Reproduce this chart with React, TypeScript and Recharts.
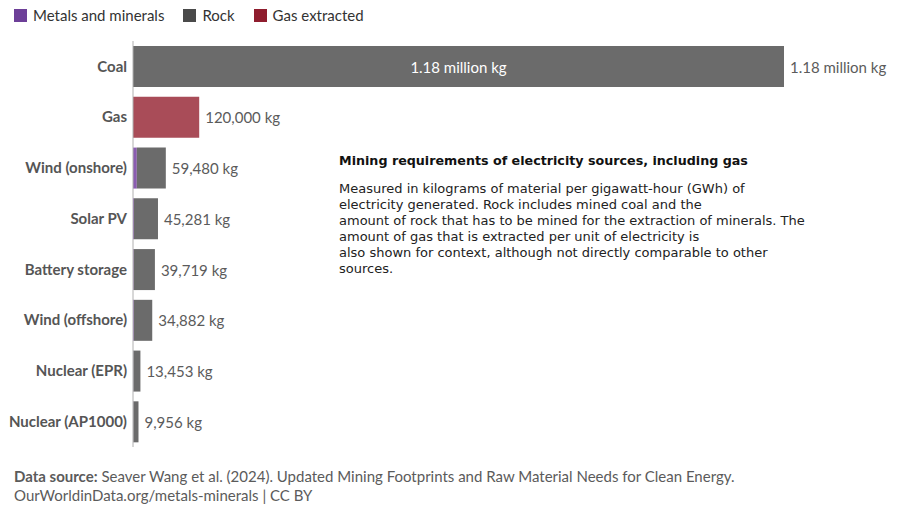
import { BarChart, Bar, XAxis, YAxis, LabelList } from 'recharts';

document.body.style.margin = '0';

const categories = [
  'Coal',
  'Gas',
  'Wind (onshore)',
  'Solar PV',
  'Battery storage',
  'Wind (offshore)',
  'Nuclear (EPR)',
  'Nuclear (AP1000)',
];
const metals = [0, 0, 6900, 1800, 1200, 1500, 500, 400];
const rock = [1180000, 0, 52580, 43481, 38519, 33382, 12953, 9556];
const gas = [0, 120000, 0, 0, 0, 0, 0, 0];
const totalLabels = [
  '1.18 million kg',
  '120,000 kg',
  '59,480 kg',
  '45,281 kg',
  '39,719 kg',
  '34,882 kg',
  '13,453 kg',
  '9,956 kg',
];

const data = categories.map((name, i) => ({
  name,
  metals: metals[i],
  rock: rock[i],
  gas: gas[i],
  total: totalLabels[i],
  inside: i === 0 ? totalLabels[i] : '',
}));

const FONT = 'Lato, "Noto Sans", sans-serif';

const legendItems = [
  { label: 'Metals and minerals', color: '#6d3f98' },
  { label: 'Rock', color: '#4a4a4a' },
  { label: 'Gas extracted', color: '#8f1d2e' },
];

const OutsideLabel = (props: any) => {
  const { x, y, width, height, value } = props;
  if (!value) return null;
  return (
    <text
      x={Number(x) + Number(width) + 6}
      y={Number(y) + Number(height) / 2}
      dominantBaseline="central"
      fill="#5b5b5b"
      fontSize={15}
      fontFamily={FONT}
    >
      {value}
    </text>
  );
};

const InsideLabel = (props: any) => {
  const { x, y, width, height, value } = props;
  if (!value) return null;
  return (
    <text
      x={Number(x) + Number(width) / 2}
      y={Number(y) + Number(height) / 2}
      textAnchor="middle"
      dominantBaseline="central"
      fill="#ffffff"
      fontSize={15}
      fontFamily={FONT}
    >
      {value}
    </text>
  );
};

export default function App() {
  return (
    <div style={{ position: 'relative', width: 900, height: 510, background: '#fff', fontFamily: FONT }}>
      <div style={{ position: 'absolute', left: 14, top: 5, display: 'flex', fontSize: 15, color: '#333' }}>
        {legendItems.map((item) => (
          <div key={item.label} style={{ display: 'flex', alignItems: 'center', marginRight: 19, height: 20 }}>
            <span style={{ width: 13, height: 13, background: item.color, marginRight: 6, display: 'inline-block' }} />
            <span>{item.label}</span>
          </div>
        ))}
      </div>

      <div style={{ position: 'absolute', left: 0, top: 0 }}>
        <BarChart
          width={900}
          height={460}
          data={data}
          layout="vertical"
          margin={{ top: 41, right: 116, bottom: 13, left: 0 }}
          barCategoryGap="10%"
        >
          <XAxis type="number" domain={[0, 1180000]} hide />
          <YAxis
            type="category"
            dataKey="name"
            width={133}
            tickLine={false}
            tickSize={0}
            tickMargin={6}
            axisLine={{ stroke: '#b0b0b0' }}
            tick={{ fill: '#555', fontSize: 15, fontWeight: 700, fontFamily: FONT }}
            interval={0}
          />
          <Bar dataKey="metals" stackId="a" fill="#8a5cb0" isAnimationActive={false} />
          <Bar dataKey="rock" stackId="a" fill="#6b6b6b" isAnimationActive={false}>
            <LabelList dataKey="inside" content={InsideLabel} />
            <LabelList dataKey={(d: any) => (d.gas > 0 ? '' : d.total)} content={OutsideLabel} />
          </Bar>
          <Bar dataKey="gas" stackId="a" fill="#a94c58" isAnimationActive={false}>
            <LabelList dataKey={(d: any) => (d.gas > 0 ? d.total : '')} content={OutsideLabel} />
          </Bar>
        </BarChart>
      </div>

      <div
        style={{
          position: 'absolute',
          left: 339,
          top: 153,
          fontFamily: '"DejaVu Sans", Verdana, sans-serif',
          fontSize: 13,
          color: '#111',
          lineHeight: '16px',
        }}
      >
        <div style={{ fontWeight: 700, fontSize: 12.7 }}>Mining requirements of electricity sources, including gas</div>
        <div style={{ marginTop: 12, color: '#222' }}>
          Measured in kilograms of material per gigawatt-hour (GWh) of
          <br />
          electricity generated. Rock includes mined coal and the
          <br />
          amount of rock that has to be mined for the extraction of minerals. The
          <br />
          amount of gas that is extracted per unit of electricity is
          <br />
          also shown for context, although not directly comparable to other
          <br />
          sources.
        </div>
      </div>

      <div
        style={{
          position: 'absolute',
          left: 14,
          top: 467,
          fontSize: 15,
          color: '#5b5b5b',
          lineHeight: '19px',
        }}
      >
        <div>
          <b>Data source:</b> Seaver Wang et al. (2024). Updated Mining Footprints and Raw Material Needs for Clean Energy.
        </div>
        <div>OurWorldinData.org/metals-minerals | CC BY</div>
      </div>
    </div>
  );
}
